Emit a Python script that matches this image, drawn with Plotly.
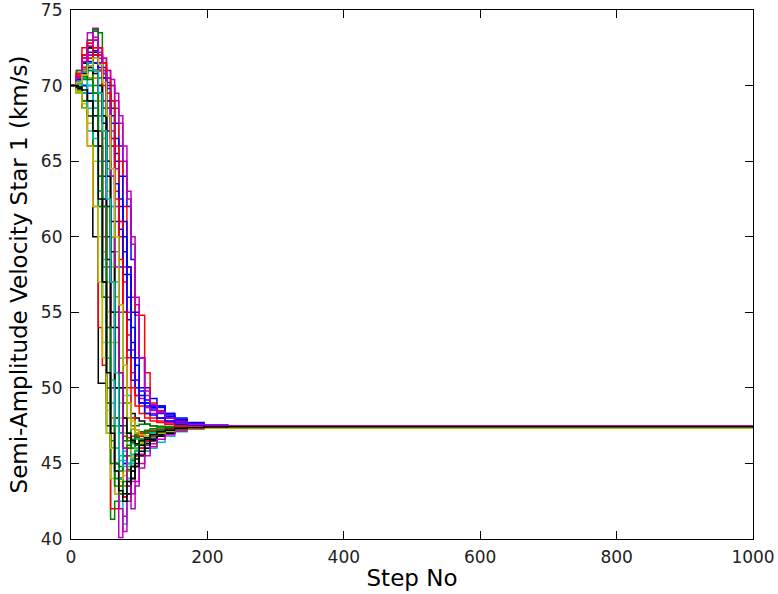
import plotly.graph_objects as go

steps = [0, 8, 16, 24, 32, 40, 46, 52, 58, 64, 70, 76, 82, 88, 94, 100,
         108, 116, 126, 138, 152, 170, 195, 230, 1000]

walker_01 = [70, 70.8, 71.5, 72.2, 72.0, 71.5, 71.0, 70.2, 69.0, 67.5, 66.0, 64.0, 62.0, 58.5, 55.0, 52.0, 50.0, 49.3, 48.8, 48.2, 47.9, 47.6, 47.5, 47.43, 47.42]
walker_02 = [70, 70.3, 71.2, 72.5, 73.6, 73.5, 70.5, 66.0, 60.0, 55.0, 51.0, 49.0, 48.0, 47.5, 47.0, 46.6, 46.8, 47.0, 47.2, 47.25, 47.3, 47.38, 47.42, 47.42, 47.42]
walker_03 = [70, 71.0, 72.0, 72.8, 72.0, 71.5, 71.8, 71.0, 70.0, 68.5, 65.0, 62.0, 58.0, 56.0, 54.8, 54.8, 51.0, 49.0, 48.5, 48.0, 47.8, 47.6, 47.5, 47.44, 47.42]
walker_04 = [70, 69.5, 68.5, 67.0, 66.0, 62.0, 56.0, 50.0, 46.0, 44.5, 45.2, 45.8, 46.0, 46.3, 46.6, 46.9, 47.0, 47.1, 47.2, 47.25, 47.3, 47.36, 47.4, 47.42, 47.42]
walker_05 = [70, 70.5, 71.5, 73.0, 73.8, 72.5, 70.5, 68.5, 66.0, 62.0, 55.0, 48.0, 44.0, 42.0, 43.5, 45.0, 45.8, 46.3, 46.8, 47.0, 47.2, 47.35, 47.42, 47.46, 47.48]
walker_06 = [70, 69.8, 69.0, 68.0, 67.0, 64.0, 60.0, 57.0, 53.0, 50.0, 48.0, 46.5, 45.5, 45.0, 45.5, 46.0, 46.5, 46.8, 47.0, 47.2, 47.25, 47.3, 47.34, 47.34, 47.34]
walker_07 = [70, 69.5, 68.5, 68.0, 60.0, 50.3, 50.3, 47.5, 46.0, 45.0, 44.0, 43.5, 43.0, 44.5, 45.5, 46.0, 46.5, 46.9, 47.1, 47.2, 47.3, 47.38, 47.42, 47.42, 47.42]
walker_08 = [70, 70.5, 71.0, 71.5, 71.0, 70.0, 69.0, 67.0, 64.0, 61.0, 58.0, 55.0, 52.5, 50.5, 49.5, 49.0, 48.8, 48.6, 48.4, 48.1, 47.8, 47.6, 47.5, 47.44, 47.42]
walker_09 = [70, 69.8, 70.5, 71.5, 70.0, 66.0, 58.0, 47.0, 41.3, 42.5, 44.0, 45.0, 45.5, 46.0, 46.3, 46.6, 46.8, 47.0, 47.1, 47.2, 47.3, 47.37, 47.42, 47.42, 47.42]
walker_10 = [70, 70.8, 72.5, 72.0, 70.5, 68.0, 60.0, 50.0, 42.0, 42.0, 44.0, 45.5, 46.0, 46.5, 46.8, 47.0, 47.1, 47.2, 47.25, 47.3, 47.35, 47.4, 47.42, 47.42, 47.42]
walker_11 = [70, 70.2, 70.8, 71.0, 70.5, 69.5, 68.5, 66.0, 62.0, 57.0, 52.0, 47.0, 44.5, 45.0, 45.5, 46.0, 46.4, 46.7, 46.9, 47.1, 47.2, 47.35, 47.4, 47.42, 47.42]
walker_12 = [70, 70.5, 71.0, 70.5, 69.0, 66.0, 62.0, 55.0, 48.0, 43.0, 40.1, 41.5, 43.0, 44.0, 44.8, 45.5, 46.0, 46.5, 46.8, 47.0, 47.2, 47.35, 47.44, 47.47, 47.48]
walker_13 = [70, 70.3, 71.0, 72.0, 71.5, 70.0, 67.0, 63.0, 58.0, 53.0, 49.0, 47.0, 46.0, 45.5, 46.0, 46.5, 46.8, 47.0, 47.1, 47.2, 47.3, 47.33, 47.34, 47.34, 47.34]
walker_14 = [70, 70.2, 70.0, 69.0, 67.0, 63.0, 57.0, 52.0, 48.0, 45.0, 43.0, 42.8, 43.5, 44.5, 45.3, 46.0, 46.5, 46.8, 47.0, 47.15, 47.25, 47.36, 47.4, 47.42, 47.42]
walker_15 = [70, 70.6, 71.8, 72.5, 72.0, 71.0, 70.5, 69.5, 67.5, 65.0, 62.0, 59.0, 56.0, 53.0, 50.5, 49.5, 49.0, 48.8, 48.8, 48.3, 48.0, 47.7, 47.55, 47.45, 47.42]
walker_16 = [70, 71.0, 72.0, 73.0, 73.7, 72.0, 69.0, 65.0, 60.0, 55.0, 50.0, 47.5, 46.5, 46.0, 46.2, 46.5, 46.7, 46.9, 47.0, 47.15, 47.25, 47.35, 47.4, 47.42, 47.42]
walker_17 = [70, 70.2, 69.0, 66.0, 62.0, 54.0, 51.5, 49.0, 48.0, 47.5, 47.0, 46.8, 46.7, 46.8, 46.9, 47.0, 47.1, 47.15, 47.2, 47.25, 47.3, 47.37, 47.4, 47.42, 47.42]
walker_18 = [70, 70.0, 70.5, 70.0, 68.0, 64.0, 58.0, 52.0, 47.5, 44.0, 42.5, 41.0, 43.5, 44.8, 45.5, 46.0, 46.4, 46.7, 46.9, 47.1, 47.2, 47.34, 47.4, 47.42, 47.42]
walker_19 = [70, 70.5, 71.5, 72.0, 72.5, 71.8, 71.0, 70.5, 70.0, 69.0, 67.5, 65.0, 62.5, 60.0, 56.0, 52.0, 49.5, 48.5, 48.0, 47.7, 47.6, 47.55, 47.5, 47.48, 47.48]
walker_20 = [70, 69.5, 68.8, 67.5, 65.0, 60.0, 53.0, 47.0, 44.0, 43.0, 43.5, 44.5, 45.0, 45.5, 46.0, 46.4, 46.7, 46.9, 47.0, 47.15, 47.25, 47.3, 47.33, 47.34, 47.34]
walker_21 = [70, 70.3, 71.0, 71.5, 71.0, 70.0, 68.0, 65.0, 61.0, 56.0, 52.0, 50.0, 49.0, 48.3, 48.0, 47.8, 47.6, 47.5, 47.45, 47.44, 47.43, 47.42, 47.42, 47.42, 47.42]
walker_22 = [70, 70.4, 70.0, 69.5, 68.5, 67.0, 64.0, 60.0, 55.0, 50.0, 47.0, 45.0, 44.5, 45.2, 45.8, 46.3, 46.6, 46.9, 47.1, 47.2, 47.3, 47.36, 47.4, 47.42, 47.42]
walker_23 = [70, 70.2, 71.0, 71.8, 71.5, 70.5, 68.5, 64.0, 57.0, 50.0, 47.0, 46.5, 47.0, 47.3, 47.5, 47.6, 47.6, 47.5, 47.45, 47.43, 47.42, 47.42, 47.42, 47.42, 47.42]
walker_24 = [70, 70.7, 71.5, 72.0, 70.5, 67.0, 62.0, 56.0, 50.0, 46.0, 43.5, 42.8, 43.8, 44.8, 45.5, 46.0, 46.5, 46.8, 47.0, 47.2, 47.3, 47.37, 47.41, 47.42, 47.42]
walker_25 = [70, 69.8, 69.5, 70.0, 69.0, 68.0, 66.5, 64.5, 62.0, 59.0, 55.5, 52.0, 49.5, 48.0, 47.0, 46.3, 45.8, 46.0, 46.4, 46.8, 47.1, 47.3, 47.38, 47.42, 47.42]
walker_26 = [70, 70.4, 71.2, 72.0, 71.0, 69.0, 65.0, 58.0, 50.0, 45.0, 42.0, 40.5, 42.5, 43.8, 44.8, 45.6, 46.2, 46.6, 46.9, 47.1, 47.25, 47.38, 47.45, 47.48, 47.48]
walker_27 = [70, 70.0, 70.8, 71.2, 70.5, 69.0, 67.0, 64.0, 60.0, 56.0, 52.0, 49.5, 48.0, 47.3, 47.0, 46.8, 46.8, 46.9, 47.0, 47.1, 47.2, 47.3, 47.33, 47.34, 47.34]
walker_28 = [70, 70.5, 71.5, 72.5, 72.2, 71.0, 68.0, 62.0, 55.0, 48.0, 44.0, 42.5, 43.0, 44.0, 45.0, 45.8, 46.3, 46.6, 46.9, 47.1, 47.2, 47.35, 47.4, 47.42, 47.42]
walker_29 = [70, 70.3, 71.0, 71.5, 71.8, 71.5, 70.8, 70.0, 68.5, 66.5, 64.0, 61.0, 58.0, 55.0, 52.0, 50.0, 49.2, 48.7, 48.3, 48.0, 47.7, 47.55, 47.47, 47.43, 47.42]
walker_30 = [70, 69.7, 69.0, 68.0, 66.0, 62.0, 56.0, 49.0, 45.0, 43.5, 44.5, 45.5, 46.0, 46.4, 46.7, 46.9, 47.0, 47.1, 47.2, 47.25, 47.3, 47.37, 47.41, 47.42, 47.42]
walker_31 = [70, 70.6, 71.8, 72.6, 72.0, 71.0, 70.0, 68.5, 66.0, 63.0, 60.0, 57.0, 53.5, 51.0, 49.5, 48.8, 48.3, 48.0, 47.8, 47.6, 47.5, 47.45, 47.43, 47.42, 47.42]
walker_32 = [70, 70.2, 70.5, 70.0, 68.5, 65.0, 59.0, 53.0, 49.0, 46.0, 44.0, 43.0, 44.0, 45.0, 45.8, 46.3, 46.7, 47.0, 47.1, 47.2, 47.3, 47.37, 47.41, 47.42, 47.42]
walker_33 = [70, 70.5, 72.0, 73.5, 73.0, 71.5, 70.5, 69.0, 67.0, 64.5, 61.0, 58.0, 55.0, 52.5, 50.5, 49.3, 48.7, 48.3, 48.0, 47.8, 47.6, 47.52, 47.5, 47.48, 47.48]
walker_34 = [70, 70.4, 71.0, 70.5, 69.5, 67.0, 62.0, 55.0, 48.0, 44.5, 43.0, 43.5, 44.5, 45.3, 46.0, 46.4, 46.7, 46.9, 47.0, 47.15, 47.25, 47.3, 47.33, 47.34, 47.34]
walker_35 = [70, 69.8, 69.5, 69.0, 68.0, 66.0, 62.5, 58.5, 54.0, 50.0, 47.5, 46.0, 45.0, 44.0, 44.8, 45.5, 46.0, 46.5, 46.8, 47.0, 47.2, 47.35, 47.4, 47.42, 47.42]
walker_36 = [70, 70.2, 70.8, 71.6, 72.3, 72.0, 71.2, 69.8, 68.0, 65.5, 62.5, 60.0, 57.5, 54.0, 51.5, 49.8, 49.0, 48.8, 48.7, 48.3, 47.9, 47.65, 47.5, 47.44, 47.42]
walker_37 = [70, 69.9, 70.4, 71.0, 69.5, 64.0, 56.0, 50.0, 46.5, 45.0, 44.8, 45.5, 46.2, 46.6, 46.9, 47.1, 47.2, 47.3, 47.35, 47.38, 47.4, 47.42, 47.42, 47.42, 47.42]
walker_38 = [70, 70.5, 71.2, 71.8, 72.5, 72.0, 71.5, 70.5, 69.0, 66.0, 61.0, 55.0, 50.0, 48.0, 47.2, 46.8, 46.7, 46.9, 47.1, 47.25, 47.35, 47.4, 47.42, 47.42, 47.42]
walker_39 = [70, 70.1, 69.5, 68.5, 66.5, 63.0, 58.5, 54.0, 50.5, 47.5, 45.5, 44.8, 45.0, 45.6, 46.0, 46.3, 46.6, 46.9, 47.1, 47.2, 47.3, 47.38, 47.41, 47.42, 47.42]
walker_40 = [70, 70.6, 71.8, 72.8, 73.2, 72.5, 71.8, 71.0, 70.4, 69.5, 68.0, 66.0, 63.0, 59.5, 55.5, 52.0, 49.8, 48.9, 48.4, 48.0, 47.75, 47.6, 47.52, 47.49, 47.48]
walker_41 = [70, 69.6, 68.5, 66.0, 62.0, 57.0, 52.0, 48.5, 46.0, 44.5, 43.8, 44.2, 44.8, 45.4, 45.9, 46.3, 46.6, 46.9, 47.1, 47.2, 47.3, 47.35, 47.35, 47.34, 47.34]
walker_42 = [70, 70.3, 70.8, 71.2, 70.8, 69.5, 67.5, 64.0, 59.0, 54.0, 50.0, 48.0, 47.0, 46.5, 46.3, 46.5, 46.7, 46.9, 47.1, 47.25, 47.32, 47.38, 47.41, 47.42, 47.42]
walker_43 = [70, 70.4, 70.9, 71.3, 71.5, 71.2, 70.5, 69.0, 66.5, 63.5, 60.5, 57.5, 54.5, 52.0, 50.0, 49.0, 48.3, 48.2, 48.0, 47.8, 47.6, 47.5, 47.45, 47.43, 47.42]
walker_44 = [70, 70.2, 70.6, 70.4, 69.5, 67.0, 62.0, 54.0, 47.5, 44.0, 43.0, 43.8, 44.6, 45.2, 45.8, 46.2, 46.6, 46.9, 47.1, 47.2, 47.3, 47.36, 47.41, 47.42, 47.42]
walker_45 = [70, 70.8, 72.0, 72.8, 73.0, 72.5, 71.5, 69.5, 66.5, 62.5, 58.5, 55.0, 52.0, 50.0, 48.8, 48.3, 48.0, 47.8, 47.7, 47.6, 47.5, 47.45, 47.43, 47.42, 47.42]
walker_46 = [70, 70.3, 70.9, 71.5, 71.0, 69.5, 67.0, 62.5, 57.0, 51.0, 47.0, 45.2, 44.8, 45.3, 45.8, 46.2, 46.6, 46.9, 47.1, 47.2, 47.3, 47.37, 47.41, 47.42, 47.42]
walker_47 = [70, 70.5, 71.6, 72.6, 73.0, 72.2, 70.8, 68.5, 64.0, 58.0, 51.0, 46.0, 43.5, 43.0, 43.8, 44.7, 45.5, 46.1, 46.6, 46.9, 47.15, 47.3, 47.42, 47.47, 47.48]
walker_48 = [70, 70.2, 70.7, 71.3, 71.8, 71.4, 70.2, 68.0, 64.5, 60.0, 55.5, 51.5, 49.0, 47.8, 47.2, 46.9, 46.8, 46.9, 47.0, 47.15, 47.25, 47.32, 47.34, 47.34, 47.34]
walker_49 = [70, 69.9, 69.7, 69.0, 67.0, 62.5, 57.0, 51.0, 47.0, 44.5, 43.2, 43.0, 43.8, 44.8, 45.6, 46.2, 46.6, 46.9, 47.1, 47.2, 47.3, 47.36, 47.41, 47.42, 47.42]

walkers = [walker_01, walker_02, walker_03, walker_04, walker_05, walker_06, walker_07,
           walker_08, walker_09, walker_10, walker_11, walker_12, walker_13, walker_14,
           walker_15, walker_16, walker_17, walker_18, walker_19, walker_20, walker_21,
           walker_22, walker_23, walker_24, walker_25, walker_26, walker_27, walker_28,
           walker_29, walker_30, walker_31, walker_32, walker_33, walker_34, walker_35,
           walker_36, walker_37, walker_38, walker_39, walker_40, walker_41, walker_42,
           walker_43, walker_44, walker_45, walker_46, walker_47, walker_48, walker_49]

# matplotlib classic colour cycle 'bgrcmyk'
colors = ["#0000ff", "#008000", "#ff0000", "#00bfbf", "#bf00bf", "#bfbf00", "#000000"]

x_ticks = [0, 200, 400, 600, 800, 1000]
y_ticks = [40, 45, 50, 55, 60, 65, 70, 75]

fig = go.Figure()
for i, w in enumerate(walkers):
    fig.add_trace(go.Scatter(
        x=steps, y=w, mode="lines", line_shape="hv",
        line=dict(color=colors[i % len(colors)], width=1.5),
        showlegend=False, hoverinfo="skip"))

axis_common = dict(
    showline=True, linecolor="black", linewidth=1.2, mirror="ticks",
    ticks="inside", ticklen=8, tickwidth=1, tickcolor="black",
    showgrid=False, zeroline=False, automargin=False,
    ticklabeloverflow="allow",
    tickfont=dict(family="DejaVu Sans", size=17, color="#222222"),
)

title_font = dict(family="DejaVu Sans", size=23, color="black")

fig.update_xaxes(range=[0, 1000], tickvals=x_ticks,
                 title=dict(text="Step No", font=title_font, standoff=4),
                 ticklabelstandoff=2, **axis_common)
fig.update_yaxes(range=[40, 75], tickvals=y_ticks,
                 title=dict(text="Semi-Amplitude Velocity Star 1 (km/s)", font=title_font, standoff=6),
                 ticklabelstandoff=4, **axis_common)

fig.update_layout(
    width=778, height=594,
    margin=dict(l=71, r=25, t=10, b=55),
    paper_bgcolor="white", plot_bgcolor="white",
)

fig.write_html("out.html")
